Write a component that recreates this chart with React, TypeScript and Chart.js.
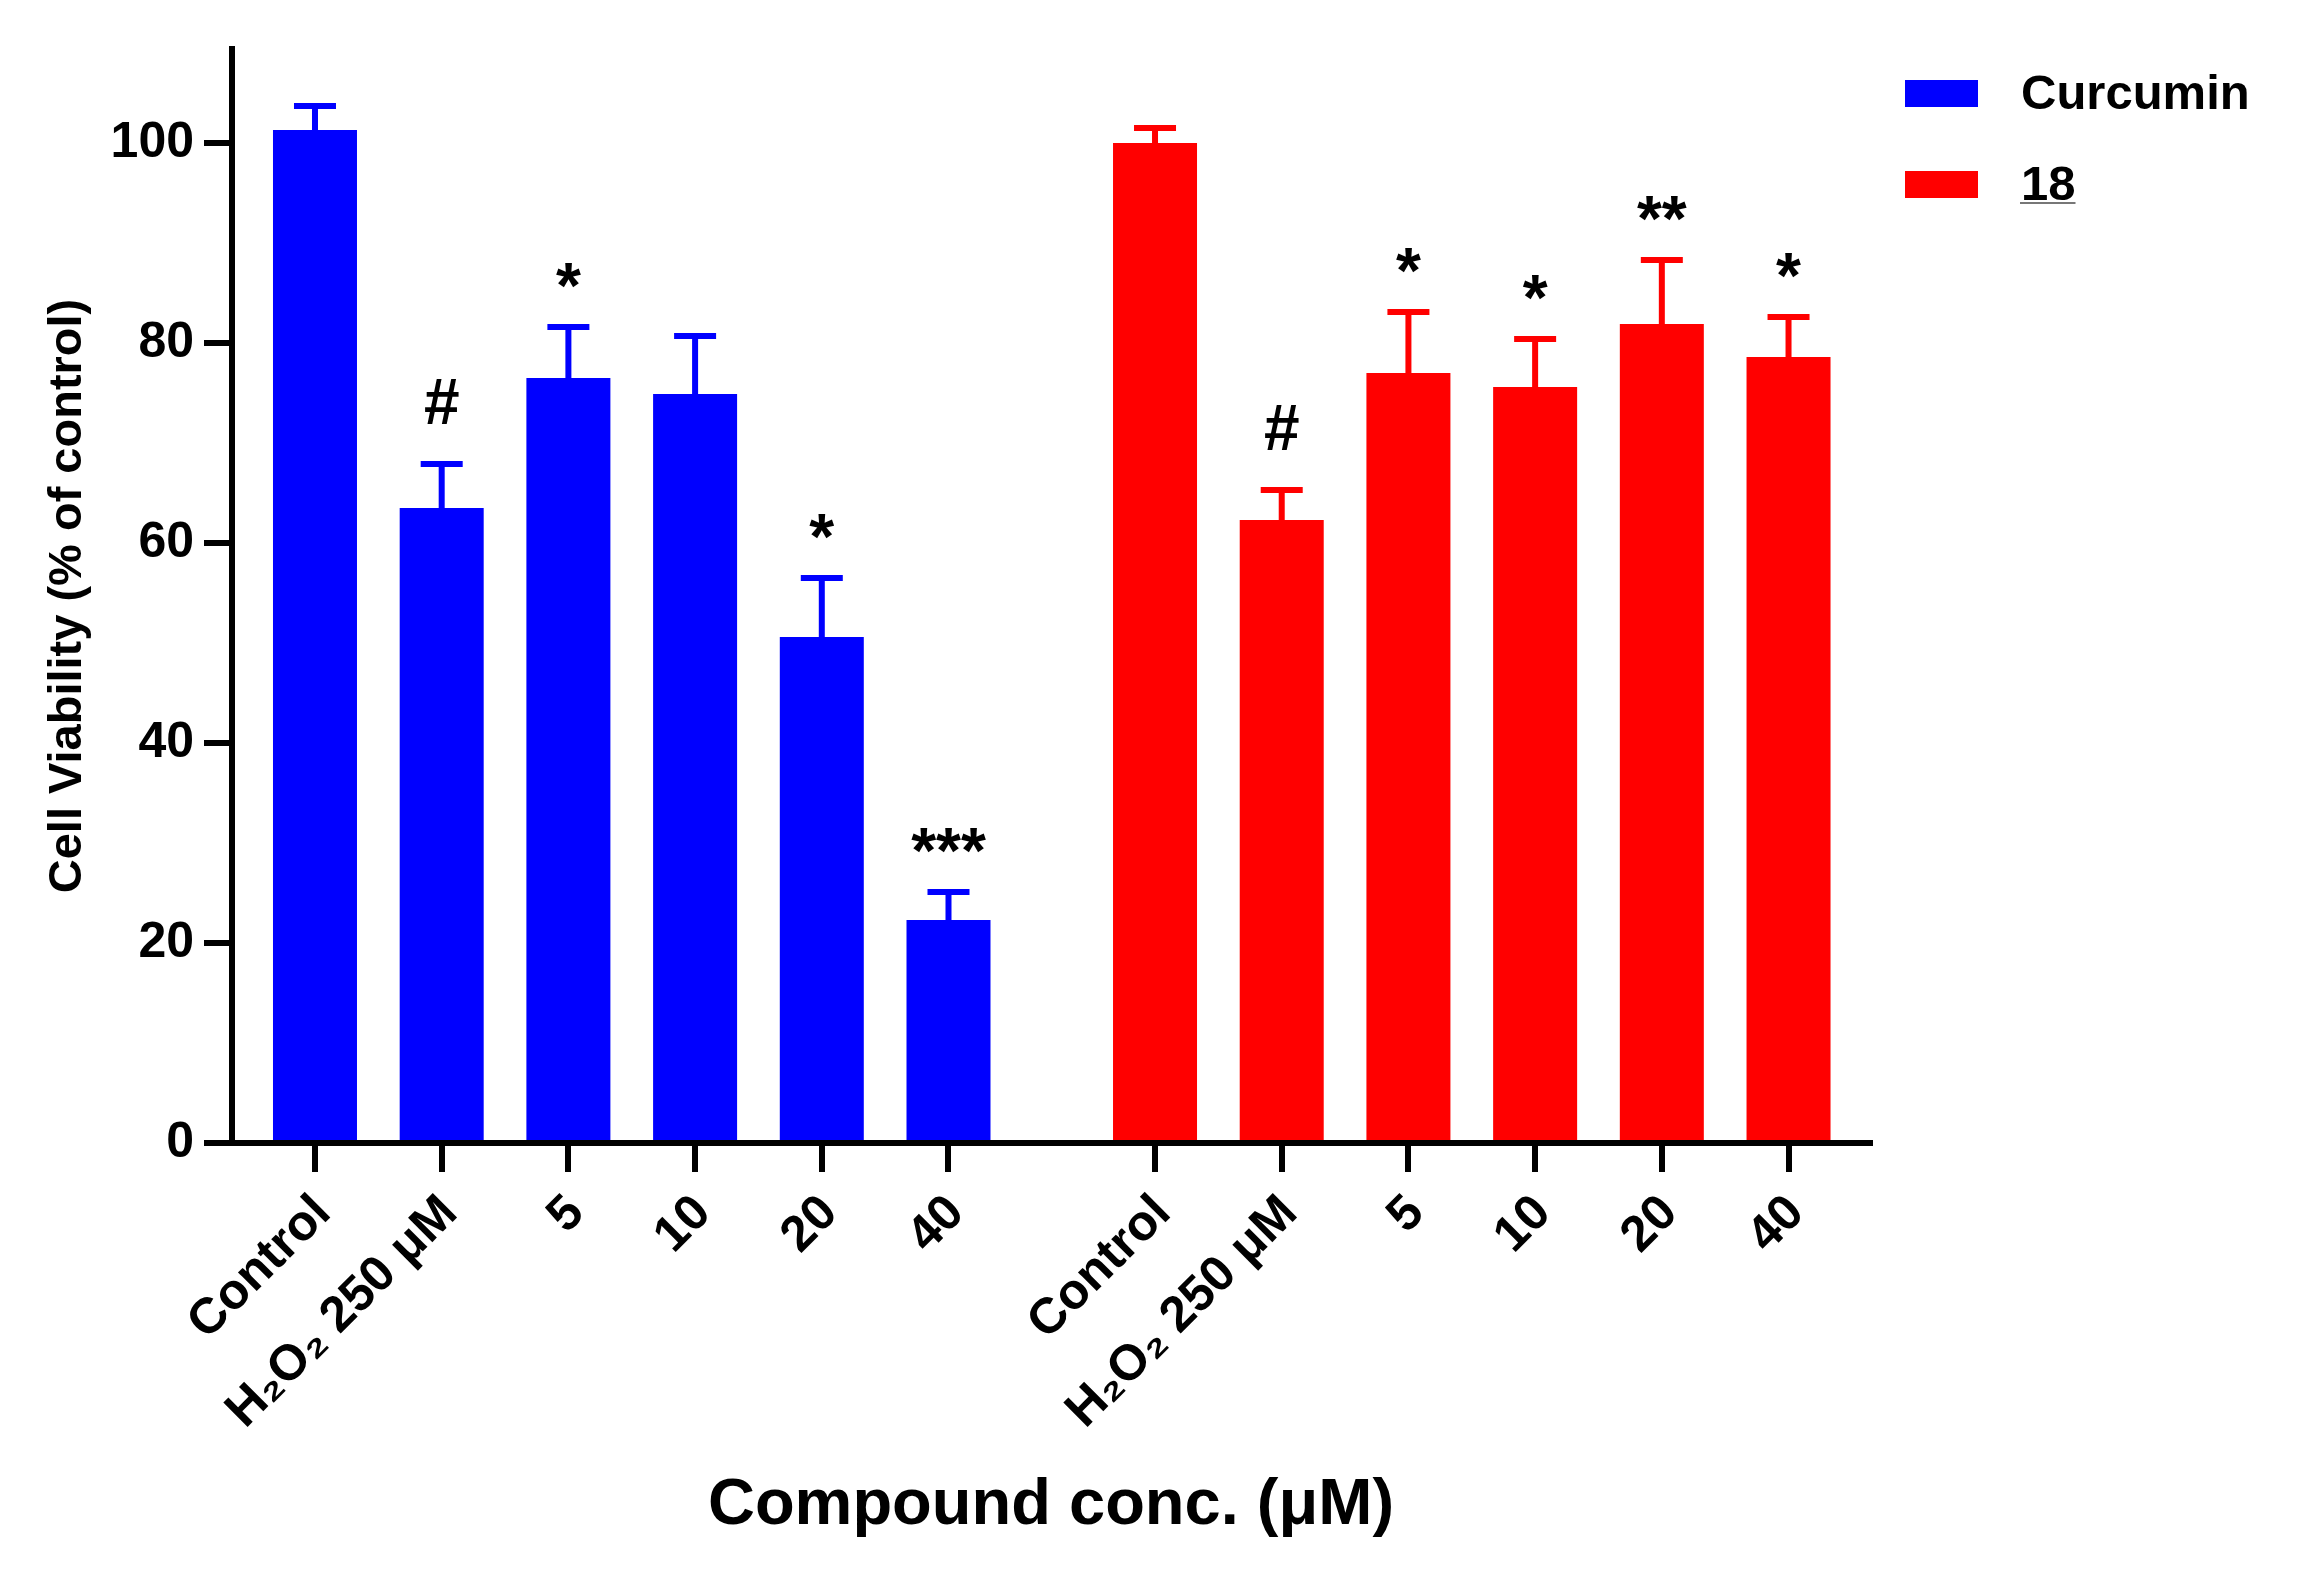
import { useEffect, useRef } from "react";
import { Chart, registerables } from "chart.js";

Chart.register(...registerables);

// data (% of control, mean and SEM)
const categories = ["Control", "H₂O₂ 250 μM", "5", "10", "20", "40"];
const seriesLabels = ["Curcumin", "18"];
const curcuminValues = [101.3, 63.5, 76.5, 74.9, 50.6, 22.3];
const curcuminErrors = [2.4, 4.4, 5.1, 5.8, 5.9, 2.8];
const curcuminMarks = ["", "#", "*", "", "*", "***"];
const compound18Values = [100.0, 62.3, 77.0, 75.6, 81.9, 78.6];
const compound18Errors = [1.5, 3.0, 6.1, 4.8, 6.4, 4.0];
const compound18Marks = ["", "#", "*", "*", "**", "*"];
const yTickValues = [0, 20, 40, 60, 80, 100];

const W = 2297;
const H = 1589;
const FONT = 'Arial, "Liberation Sans", Helvetica, sans-serif';
const BLUE = "#0000FF";
const RED = "#FF0000";
const LINE = 6;
const GROUP_OFFSET = 6.63; // where the second group starts, in bar slots

const xPositions = [
  ...categories.map((_, i) => i),
  ...categories.map((_, i) => GROUP_OFFSET + i),
];
const xLabels = [...categories, ...categories];

const errorBars = {
  id: "errorBars",
  afterDatasetsDraw(chart) {
    const { ctx } = chart;
    const yScale = chart.scales.y;
    chart.data.datasets.forEach((ds, di) => {
      const meta = chart.getDatasetMeta(di);
      meta.data.forEach((bar, i) => {
        const { x, y, width } = bar.getProps(["x", "y", "width"], true);
        const top = yScale.getPixelForValue(ds.data[i].y + ds.errors[i]);
        ctx.save();
        ctx.strokeStyle = ds.backgroundColor;
        ctx.lineWidth = LINE;
        ctx.beginPath();
        ctx.moveTo(x, y);
        ctx.lineTo(x, top);
        ctx.moveTo(x - width / 4, top);
        ctx.lineTo(x + width / 4, top);
        ctx.stroke();

        const mark = ds.marks[i];
        if (mark) {
          ctx.font = `bold 64px ${FONT}`;
          ctx.fillStyle = "#000";
          ctx.textAlign = "center";
          ctx.textBaseline = "alphabetic";
          const m = ctx.measureText(mark);
          const centre = top - (mark.startsWith("#") ? 63 : 52);
          const base = centre + (m.actualBoundingBoxAscent - m.actualBoundingBoxDescent) / 2;
          ctx.fillText(mark, x, base);
        }
        ctx.restore();
      });
    });
  },
};

const sideLegend = {
  id: "sideLegend",
  afterDraw(chart) {
    const { ctx } = chart;
    chart.data.datasets.forEach((ds, i) => {
      const top = 80 + i * 91;
      ctx.save();
      ctx.fillStyle = ds.backgroundColor;
      ctx.fillRect(1905, top, 73, 27);
      ctx.font = `bold 49px ${FONT}`;
      ctx.fillStyle = "#000";
      ctx.textAlign = "left";
      ctx.textBaseline = "middle";
      ctx.fillText(ds.label, 2021, top + 15);
      if (i === 1) {
        const w = ctx.measureText(ds.label).width;
        ctx.strokeStyle = "#777";
        ctx.lineWidth = 2;
        ctx.beginPath();
        ctx.moveTo(2020, top + 32);
        ctx.lineTo(2021 + w, top + 32);
        ctx.stroke();
      }
      ctx.restore();
    });
  },
};

export default function App() {
  const canvasRef = useRef(null);
  const chartRef = useRef(null);

  useEffect(() => {
    document.body.style.margin = "0";
    if (!canvasRef.current) return;
    if (chartRef.current) chartRef.current.destroy();

    chartRef.current = new Chart(canvasRef.current, {
      type: "bar",
      data: {
        datasets: [
          {
            label: seriesLabels[0],
            data: curcuminValues.map((v, i) => ({ x: xPositions[i], y: v })),
            errors: curcuminErrors,
            marks: curcuminMarks,
            backgroundColor: BLUE,
            borderWidth: 0,
          },
          {
            label: seriesLabels[1],
            data: compound18Values.map((v, i) => ({ x: xPositions[i + 6], y: v })),
            errors: compound18Errors,
            marks: compound18Marks,
            backgroundColor: RED,
            borderWidth: 0,
          },
        ],
      },
      options: {
        responsive: false,
        devicePixelRatio: 1,
        animation: false,
        grouped: false,
        categoryPercentage: 1,
        barPercentage: 0.663,
        layout: { padding: { top: 49, right: W - 1870, bottom: 0, left: 0 } },
        plugins: {
          legend: { display: false },
          tooltip: { enabled: false },
        },
        scales: {
          x: {
            type: "linear",
            min: -0.655,
            max: 12.273,
            offset: false,
            afterFit: (scale) => {
              scale.height = H - 1143;
            },
            afterBuildTicks: (scale) => {
              scale.ticks = xPositions.map((v) => ({ value: v }));
            },
            grid: {
              offset: false,
              drawOnChartArea: false,
              drawTicks: true,
              tickLength: 29,
              tickWidth: LINE,
              tickColor: "#000",
              lineWidth: LINE,
              color: "#000",
            },
            border: { display: true, width: LINE, color: "#000" },
            ticks: {
              autoSkip: false,
              minRotation: 45,
              maxRotation: 45,
              padding: 12,
              labelOffset: 8,
              color: "#000",
              font: { family: FONT, size: 50, weight: "bold" },
              callback: (value, index) => xLabels[index],
            },
            title: {
              display: true,
              text: "Compound conc. (μM)",
              color: "#000",
              font: { family: FONT, size: 65, weight: "bold" },
              padding: { top: 0, bottom: 44 },
            },
          },
          y: {
            min: 0,
            max: 109.4,
            afterFit: (scale) => {
              scale.width = 232;
            },
            afterBuildTicks: (scale) => {
              scale.ticks = yTickValues.map((v) => ({ value: v }));
            },
            grid: {
              drawOnChartArea: false,
              drawTicks: true,
              tickLength: 28,
              tickWidth: LINE,
              tickColor: "#000",
              lineWidth: LINE,
              color: "#000",
            },
            border: { display: true, width: LINE, color: "#000" },
            ticks: {
              padding: 10,
              color: "#000",
              font: { family: FONT, size: 50, weight: "bold" },
            },
            title: {
              display: true,
              text: "Cell Viability (% of control)",
              color: "#000",
              font: { family: FONT, size: 47, weight: "bold" },
              padding: { top: 40, bottom: 0 },
            },
          },
        },
      },
      plugins: [errorBars, sideLegend],
    });

    return () => {
      if (chartRef.current) {
        chartRef.current.destroy();
        chartRef.current = null;
      }
    };
  }, []);

  return (
    <div style={{ width: W, height: H, background: "#fff" }}>
      <canvas ref={canvasRef} width={W} height={H} style={{ display: "block" }}></canvas>
    </div>
  );
}
